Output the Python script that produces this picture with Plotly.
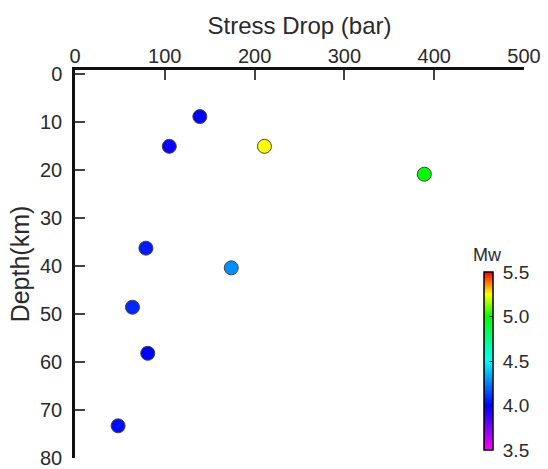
import plotly.graph_objects as go

stress_drop = [139, 105, 211, 389, 79, 174, 64, 81, 48]
depth = [8.9, 15.1, 15.1, 20.9, 36.3, 40.4, 48.6, 58.2, 73.3]
mw = [4.0, 3.98, 5.25, 5.0, 4.05, 4.28, 4.08, 4.0, 4.02]

x_ticks = [0, 100, 200, 300, 400, 500]
y_ticks = [0, 10, 20, 30, 40, 50, 60, 70, 80]
cb_ticks = [3.5, 4.0, 4.5, 5.0, 5.5]

colorscale = [
    [0.0, "#ff00ff"],
    [0.25, "#0000ff"],
    [0.5, "#00ffff"],
    [0.75, "#00ff00"],
    [0.875, "#ffff00"],
    [1.0, "#ff0000"],
]

font = "Liberation Sans, Arial, sans-serif"
txt = "#2a2a2a"

fig = go.Figure(
    go.Scatter(
        x=stress_drop,
        y=depth,
        mode="markers",
        marker=dict(
            size=14,
            color=mw,
            cmin=3.5,
            cmax=5.5,
            colorscale=colorscale,
            line=dict(color="#444444", width=1),
            colorbar=dict(
                tickvals=cb_ticks,
                ticktext=["\u2005" + f"{v:.1f}" for v in cb_ticks],
                tickfont=dict(size=19, family=font, color=txt),
                thickness=9,
                thicknessmode="pixels",
                len=178,
                lenmode="pixels",
                x=0.91,
                xanchor="left",
                y=0.02,
                yanchor="bottom",
                outlinecolor="black",
                outlinewidth=1.5,
                ticks="inside",
                ticklen=4,
                tickcolor="black",
                xpad=0,
                ypad=0,
            ),
        ),
        showlegend=False,
    )
)

fig.add_annotation(
    text="Mw", xref="paper", yref="paper", x=0.919, y=0.524,
    xanchor="center", yanchor="middle", showarrow=False,
    font=dict(size=18, family=font, color=txt),
)

fig.update_layout(
    width=548,
    height=469,
    margin=dict(l=74.5, r=23.7, t=70, b=11),
    paper_bgcolor="white",
    plot_bgcolor="white",
    font=dict(family=font, color=txt),
    xaxis=dict(
        side="top",
        range=[0, 500],
        tickvals=x_ticks,
        ticks="inside",
        ticklen=10,
        tickwidth=1.5,
        tickcolor="#444",
        showline=True,
        linecolor="#111",
        linewidth=2.5,
        showgrid=False,
        zeroline=False,
        automargin=False,
        tickfont=dict(size=20, family=font, color=txt),
        ticklabelstandoff=-4,
        title=dict(text="Stress Drop (bar)", font=dict(size=24, family=font, color=txt), standoff=4),
    ),
    yaxis=dict(
        range=[80, -0.8],
        tickvals=y_ticks,
        ticks="inside",
        ticklen=10,
        tickwidth=1.5,
        tickcolor="#444",
        showline=True,
        linecolor="#111",
        linewidth=2.5,
        showgrid=False,
        zeroline=False,
        automargin=False,
        tickfont=dict(size=20, family=font, color=txt),
        ticklabelstandoff=6,
        title=dict(text="Depth(km)", font=dict(size=25, family=font, color=txt), standoff=4),
    ),
)

fig.write_html("out.html")
